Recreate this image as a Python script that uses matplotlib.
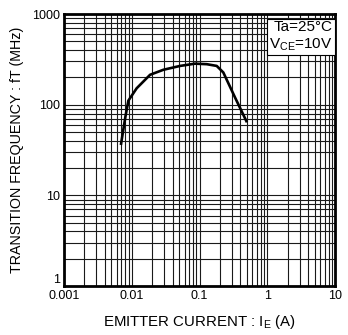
import matplotlib
matplotlib.use("Agg")
import matplotlib.pyplot as plt
from matplotlib.ticker import LogLocator, NullFormatter, FixedLocator, FixedFormatter

plt.rcParams["font.family"] = ["Liberation Sans", "DejaVu Sans"]
plt.rcParams["mathtext.fontset"] = "custom"
plt.rcParams["mathtext.rm"] = "Liberation Sans"

# emitter current (A) vs transition frequency (MHz)
current_a = [0.0069, 0.0080, 0.0089, 0.0118, 0.0186, 0.0292, 0.0516,
             0.0859, 0.128, 0.179, 0.224, 0.334, 0.50]
ft_mhz = [36, 72, 111, 152, 214, 243, 268, 284, 280, 268, 227, 120, 64]

x_ticks = [0.001, 0.01, 0.1, 1, 10]
x_labels = ["0.001", "0.01", "0.1", "1", "10"]
y_ticks = [1, 10, 100, 1000]
y_labels = ["1", "10", "100", "1000"]

fig = plt.figure(figsize=(3.48, 3.35), dpi=100)
ax = fig.add_axes([0.184, 0.146, 0.779, 0.812])

ax.set_xscale("log")
ax.set_yscale("log")
ax.set_xlim(0.001, 10)
ax.set_ylim(1, 1000)

ax.xaxis.set_major_locator(FixedLocator(x_ticks))
ax.xaxis.set_major_formatter(FixedFormatter(x_labels))
ax.yaxis.set_major_locator(FixedLocator(y_ticks))
ax.yaxis.set_major_formatter(FixedFormatter(y_labels))
ax.xaxis.set_minor_locator(LogLocator(base=10, subs=range(2, 10), numticks=20))
ax.yaxis.set_minor_locator(LogLocator(base=10, subs=range(2, 10), numticks=20))
ax.xaxis.set_minor_formatter(NullFormatter())
ax.yaxis.set_minor_formatter(NullFormatter())

ax.grid(True, which="both", color="0.1", linewidth=0.8)
ax.tick_params(which="both", length=0, labelsize=9, pad=3)
for sp in ax.spines.values():
    sp.set_linewidth(2)

# lift the bottom "1" label a little so it does not touch "0.001"
ax.get_yticklabels()[0].set_verticalalignment("bottom")

ax.plot(current_a, ft_mhz, color="black", linewidth=1.9, zorder=3,
        solid_capstyle="butt")

ax.text(0.99, 0.98, "Ta=25°C\nV$_{\\mathrm{CE}}$=10V", transform=ax.transAxes,
        ha="right", va="top", fontsize=11, linespacing=1.2, zorder=4,
        bbox=dict(facecolor="white", edgecolor="black", linewidth=0.8, pad=1.5))

ax.set_xlabel("EMITTER CURRENT : I$_{\\mathrm{E}}$ (A)", fontsize=10.8, labelpad=8)
ax.set_ylabel("TRANSITION FREQUENCY : fT (MHz)", fontsize=10.3, labelpad=6)

fig.savefig("out.png", dpi=100)
